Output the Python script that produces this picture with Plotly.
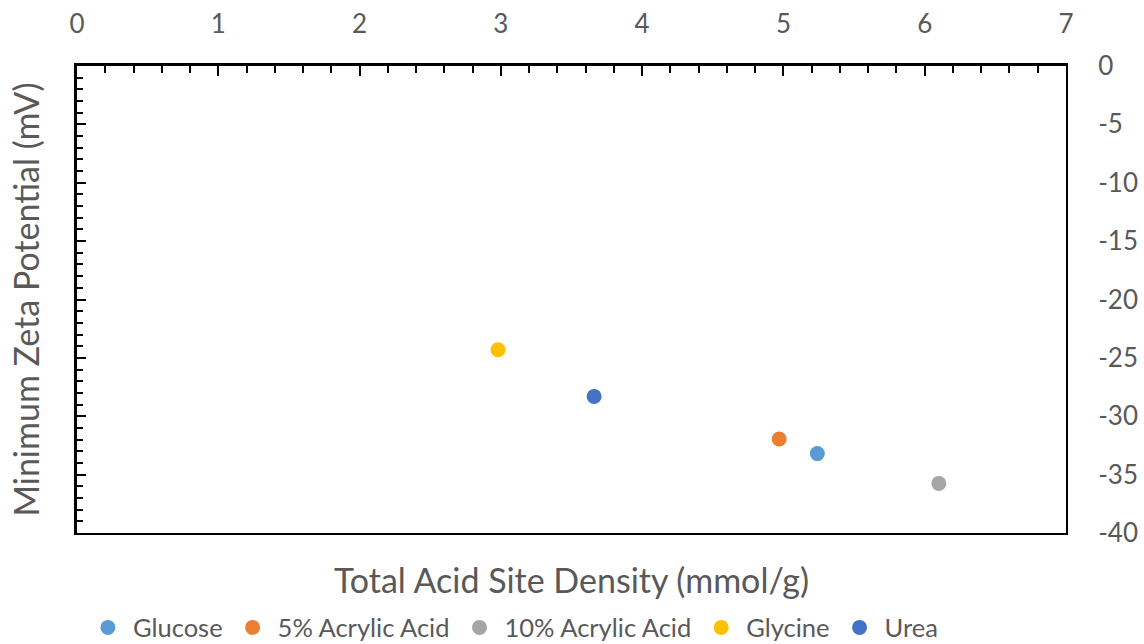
import plotly.graph_objects as go

names = ["Glucose", "5% Acrylic Acid", "10% Acrylic Acid", "Glycine", "Urea"]
acid_density = [5.24, 4.97, 6.10, 2.98, 3.66]
zeta_min = [-33.2, -31.95, -35.75, -24.3, -28.3]
colors = ["#5B9BD5", "#ED7D31", "#A5A5A5", "#FFC000", "#4472C4"]

x_tickvals = [0, 1, 2, 3, 4, 5, 6, 7]
x_ticktext = ["0", "1", "2", "3", "4", "5", "6", "7"]
y_tickvals = [0, -5, -10, -15, -20, -25, -30, -35, -40]
y_ticktext = ["0", "-5", "-10", "-15", "-20", "-25", "-30", "-35", "-40"]

FONT = "Lato"
GREY = "#595959"

fig = go.Figure()
for n, xv, yv, c in zip(names, acid_density, zeta_min, colors):
    fig.add_trace(go.Scatter(x=[xv], y=[yv], mode="markers", name=n,
                             marker=dict(color=c, size=15, line=dict(width=0)),
                             xaxis="x", yaxis="y"))
# helper trace for the overlaid axes
fig.add_trace(go.Scatter(x=[None], y=[None], mode="markers", showlegend=False,
                         xaxis="x2", yaxis="y2", hoverinfo="skip"))

fig.update_layout(
    width=1144, height=644,
    margin=dict(l=77, r=77.5, t=65.5, b=111, autoexpand=False),
    paper_bgcolor="white", plot_bgcolor="white",
    font=dict(family=FONT, color=GREY, size=26),
    showlegend=True,
    legend=dict(orientation="h", x=0.006, xanchor="left", y=-0.203, yanchor="middle",
                font=dict(size=25.5, color=GREY), itemsizing="trace",
                itemwidth=40, tracegroupgap=0),
    xaxis=dict(range=[0, 7], side="top", showgrid=False, zeroline=False,
               showline=True, linecolor="black", linewidth=3,
               ticks="inside", ticklen=10, tickwidth=2, tickcolor="black",
               tickmode="array", tickvals=x_tickvals, ticktext=x_ticktext,
               ticklabelstandoff=20,
               minor=dict(ticks="inside", dtick=0.2, tick0=0, ticklen=7, tickwidth=2,
                          tickcolor="black", showgrid=False),
               tickfont=dict(size=26, color=GREY), automargin=False),
    xaxis2=dict(range=[0, 7], overlaying="x", side="bottom", matches="x",
                showgrid=False, zeroline=False, showline=True, linecolor="black", linewidth=1.5,
                ticks="", showticklabels=False, automargin=False,
                title=dict(text="Total Acid Site Density (mmol/g)", standoff=35,
                           font=dict(size=34, color=GREY))),
    yaxis=dict(range=[-40, 0], side="left", showgrid=False, zeroline=False,
               showline=True, linecolor="black", linewidth=3,
               ticks="inside", ticklen=9, tickwidth=2, tickcolor="black",
               tickmode="array", tickvals=y_tickvals, showticklabels=False,
               minor=dict(ticks="inside", dtick=1, tick0=0, ticklen=6, tickwidth=2,
                          tickcolor="black", showgrid=False),
               automargin=False,
               title=dict(text="Minimum Zeta Potential (mV)", standoff=25,
                          font=dict(size=34, color=GREY))),
    yaxis2=dict(range=[-40, 0], overlaying="y", side="right", matches="y",
                showgrid=False, zeroline=False, showline=True, linecolor="black", linewidth=2,
                ticks="outside", ticklen=25, tickcolor="rgba(0,0,0,0)",
                tickmode="array", tickvals=y_tickvals, ticktext=y_ticktext,
                tickfont=dict(size=26, color=GREY), automargin=False),
)

fig.write_html("out.html", config={"displayModeBar": False},
               post_script="document.body.style.margin='0';")
